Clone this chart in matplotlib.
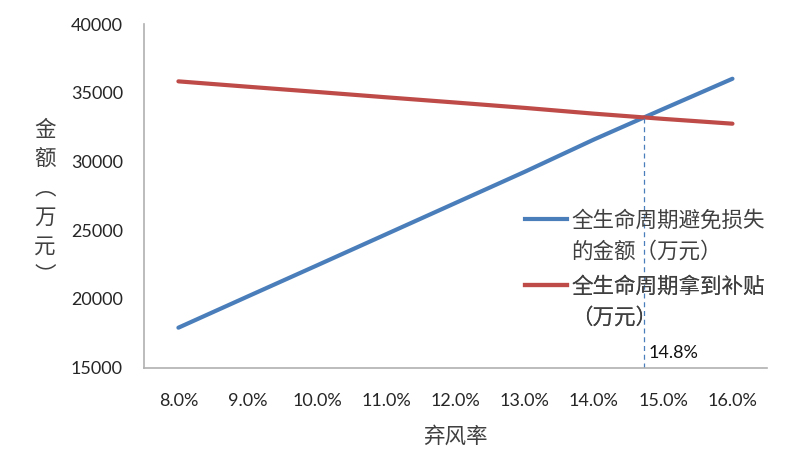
import matplotlib
matplotlib.use('Agg')
import matplotlib.pyplot as plt
from matplotlib.lines import Line2D

plt.rcParams['font.family'] = ['Noto Sans CJK SC', 'DejaVu Sans']

rates = [8.0, 9.0, 10.0, 11.0, 12.0, 13.0, 14.0, 15.0, 16.0]
tick_labels = ['8.0%', '9.0%', '10.0%', '11.0%', '12.0%', '13.0%', '14.0%', '15.0%', '16.0%']
avoided_loss = [17910, 20180, 22440, 24710, 26980, 29250, 31600, 33820, 36020]
subsidy = [35830, 35440, 35060, 34670, 34290, 33900, 33480, 33100, 32750]
cross_rate = 14.72
cross_value = 33200
cross_label = '14.8%'

blue = '#4a7ebb'
red = '#be4b48'
num_font = ['Lato', 'DejaVu Sans']

fig = plt.figure(figsize=(7.9, 4.74), dpi=100)
ax = fig.add_axes([0.182, 0.2243, 0.789, 0.725])

ax.plot(rates, avoided_loss, color=blue, lw=3, solid_capstyle='round')
ax.plot(rates, subsidy, color=red, lw=3, solid_capstyle='round')

# dashed marker at the crossing point
ax.plot([cross_rate, cross_rate], [15000, cross_value], color=blue, lw=0.9, ls=(0, (4, 3)))
ax.text(cross_rate + 0.075, 16070, cross_label, fontsize=13, family=num_font,
        color='#111111', va='center', ha='left')

ax.set_xlim(7.5, 16.5)
ax.set_ylim(15000, 40000)
ax.set_xticks(rates)
ax.set_xticklabels(tick_labels)
ax.set_yticks([15000, 20000, 25000, 30000, 35000, 40000])
ax.tick_params(length=0, labelsize=13, colors='#262626')
ax.tick_params(axis='x', pad=18)
ax.tick_params(axis='y', pad=15)
for lab in ax.get_xticklabels() + ax.get_yticklabels():
    lab.set_family(num_font)

for s in ['top', 'right']:
    ax.spines[s].set_visible(False)
for s in ['left', 'bottom']:
    ax.spines[s].set_color('#b0b0b0')
    ax.spines[s].set_linewidth(1.2)

ax.set_xlabel('弃风率', fontsize=15.5, color='#404040', labelpad=12)
fig.text(0.057, 0.572, '\n'.join(['金', '额', '︵', '万', '元', '︶']), fontsize=15.5,
         color='#404040', ha='center', va='center', linespacing=1.42)

# legend: two blocks, handle aligned with first text line
blank = Line2D([], [], color='none')
entries = [
    (blue, ['全生命周期避免损失', '的金额（万元）'], 0.557),
    (red, ['全生命周期拿到补贴', '（万元）'], 0.4177),
]
for color, lines, ytop in entries:
    h = Line2D([], [], color=color, lw=3)
    leg = ax.legend([h, blank], lines, loc='upper left', bbox_to_anchor=(0.6646, ytop),
                    bbox_transform=fig.transFigure, frameon=False, fontsize=15.5,
                    handlelength=1.95, handletextpad=0.2, labelspacing=0.4, borderpad=0,
                    borderaxespad=0)
    for t in leg.get_texts():
        t.set_color('#404040')
    ax.add_artist(leg)

fig.savefig('out.png', dpi=100)
